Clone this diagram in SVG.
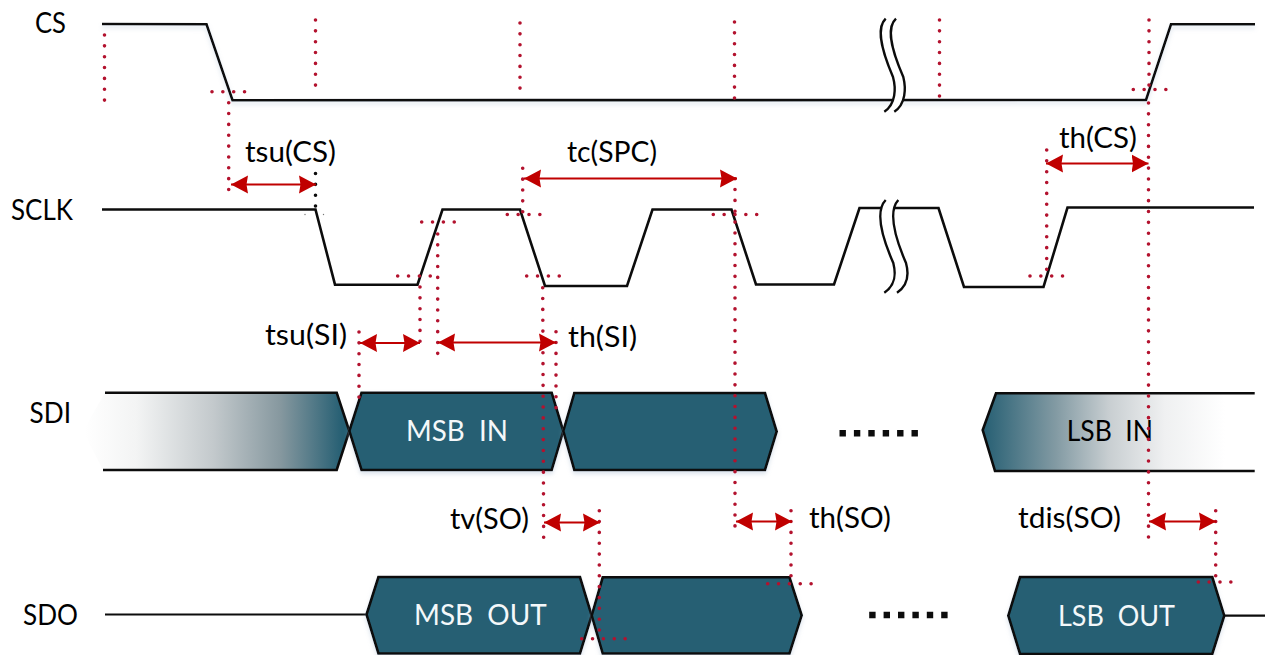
<svg xmlns="http://www.w3.org/2000/svg" width="1266" height="655" viewBox="0 0 1266 655">
<style>
text{font-family:"Lato","Open Sans","Liberation Sans",sans-serif;font-size:29px;fill:#000;white-space:pre}
.w{fill:#f4f8fa}
.sig{fill:none;stroke:#0c0c0c;stroke-width:2.6;stroke-linejoin:miter}
.thin{fill:none;stroke:#0c0c0c;stroke-width:2.2}
.bus{fill:#265f73;stroke:#0c0c0c;stroke-width:2.6;stroke-linejoin:miter}
.brk{fill:#fff;stroke:none}
.brkl{fill:none;stroke:#0c0c0c;stroke-width:2.4}
.dot{fill:none;stroke:#b3122e;stroke-width:3.600;stroke-linecap:round;stroke-dasharray:0 10.85}
.kdot{fill:none;stroke:#0c0c0c;stroke-width:3.600;stroke-linecap:round;stroke-dasharray:0 10.85}
.sq{fill:none;stroke:#0c0c0c;stroke-width:6.4;stroke-dasharray:6.4 8}
.arr{fill:none;stroke:#c00000;stroke-width:2.200;marker-start:url(#ah);marker-end:url(#ah)}
</style>
<defs>
<marker id="ah" markerUnits="userSpaceOnUse" markerWidth="18" markerHeight="19" refX="17" refY="9.500" orient="auto-start-reverse"><path d="M0 .5L17 9.500L0 18.500L1.500 9.500Z" fill="#c00000"/></marker>
<linearGradient id="gl" gradientUnits="userSpaceOnUse" x1="85" y1="0" x2="342" y2="0"><stop offset="0" stop-color="#fff"/><stop offset=".2" stop-color="#f3f4f4"/><stop offset=".5" stop-color="#c3c9cc"/><stop offset=".76" stop-color="#86989f"/><stop offset="1" stop-color="#265f73"/></linearGradient>
<linearGradient id="gr" gradientUnits="userSpaceOnUse" x1="983" y1="0" x2="1225" y2="0"><stop offset="0" stop-color="#265f73"/><stop offset=".3" stop-color="#829aa3"/><stop offset=".52" stop-color="#c8ced1"/><stop offset=".75" stop-color="#eff0f1"/><stop offset="1" stop-color="#fff"/></linearGradient>
<filter id="sh" x="-5%" y="-30%" width="110%" height="160%"><feDropShadow dx="0" dy="3" stdDeviation="2" flood-color="#9db4cc" flood-opacity=".35"/></filter>
</defs>

<g id="label-cs"><text x="35" y="33" textLength="31" lengthAdjust="spacingAndGlyphs">CS</text></g>
<g id="label-sclk"><text x="11" y="220" textLength="62" lengthAdjust="spacingAndGlyphs">SCLK</text></g>
<g id="label-sdi"><text x="29.500" y="423" textLength="41.500" lengthAdjust="spacingAndGlyphs">SDI</text></g>
<g id="label-sdo"><text x="23" y="625" textLength="55" lengthAdjust="spacingAndGlyphs">SDO</text></g>

<g id="signal-cs">
<path class="sig" filter="url(#sh)" d="M102 24L206.500 24.300L232.500 100.200L1146 100L1171 24.300L1255 24.300"/>
<path class="brk" d="M885.700 18.700C878 26 878 42 893 77C896 88 896 104 884.300 111.700H894.300C906 104 906 88 903.300 77C888 42 888 26 896 18.700Z"/>
<path class="brkl" d="M885.700 18.700C878 26 878 42 893 77C896 88 896 104 884.300 111.700M896 18.700C888 26 888 42 903.300 77C906 88 906 104 894.300 111.700"/>
</g>
<g id="signal-sclk">
<path class="sig" d="M102 209.500H315.500L335 284.700H417.500L442.500 209.500H520L545 286H627L652.500 209.500H731.500L756 284.500H834L859.500 208H938.500L964 287H1043.500L1067.500 207.500H1254"/>
<path class="brk" d="M885.700 200C878 208 877 226 893.300 263C896 274 896 285 884.300 292.700H897C908.500 285 909 274 906 263C890 226 891 208 898.300 200Z"/>
<path class="brkl" d="M885.700 200C878 208 877 226 893.300 263C896 274 896 285 884.300 292.700M898.300 200C891 208 890 226 906 263C909 274 908.500 285 897 292.700"/>
</g>
<g id="signal-sdi-first">
<path d="M105 392.700H336.700L349.300 431L336.700 470H103L83 431Z" fill="url(#gl)"/>
<path class="sig" d="M105 392.700H336.700L349.300 431L336.700 470H103"/>
</g>
<g id="signal-sdi-msb">
<polygon class="bus" filter="url(#sh)" points="349.300,431 361.500,392.700 551.700,392.700 563.300,431 551.700,470 361.500,470"/>
<text class="w" x="406" y="441" textLength="102" lengthAdjust="spacingAndGlyphs">MSB  IN</text>
</g>
<g id="signal-sdi-second">
<polygon class="bus" filter="url(#sh)" points="563.300,431 574.300,393 765,393 776.700,431.500 765,470 574.300,470"/>
</g>
<g id="signal-sdi-gap"><path class="sq" d="M839.500 433.300H918"/></g>
<g id="signal-sdi-lsb">
<path d="M996 393.300H1222L1235 431L1222 471H995L982.700 430Z" fill="url(#gr)"/>
<path class="sig" d="M1254.700 393.300H996L982.700 430L995 471H1254.700"/>
<text x="1066.700" y="441" textLength="86.300" lengthAdjust="spacingAndGlyphs">LSB  IN</text>
</g>
<g id="signal-sdo-idle"><path class="thin" d="M105 614.500H366.500"/></g>
<g id="signal-sdo-msb">
<polygon class="bus" filter="url(#sh)" points="366.500,614.500 378.400,577 580,577 591.700,615.500 580,653.500 378.400,653.500"/>
<text class="w" x="414" y="625" textLength="132.700" lengthAdjust="spacingAndGlyphs">MSB  OUT</text>
</g>
<g id="signal-sdo-second">
<polygon class="bus" filter="url(#sh)" points="591.700,615.500 602.700,577.300 789.500,577.300 801.700,615.300 789.500,653.500 602.700,653.500"/>
</g>
<g id="signal-sdo-gap"><path class="sq" d="M869.200 615H949"/></g>
<g id="signal-sdo-lsb">
<polygon class="bus" filter="url(#sh)" points="1008.300,615.700 1020,577 1212.300,577 1224.300,615.700 1212.300,654 1020,654"/>
<text class="w" x="1058" y="626" textLength="117" lengthAdjust="spacingAndGlyphs">LSB  OUT</text>
<path class="thin" d="M1224.300 615.700H1265"/>
</g>

<g id="connectors">
<path class="dot" d="M104.500 35V101"/>
<path class="dot" d="M315.500 20V86"/>
<path class="dot" d="M520 23V89"/>
<path class="dot" d="M734.500 22V100"/>
<path class="dot" d="M939.500 20V97"/>
<path class="dot" d="M1149 20V86"/>
<path class="dot" d="M1148.500 103V539"/>
<path class="dot" d="M228.700 102.700V190"/>
<path class="dot" d="M212 91.700H246"/>
<path class="dot" d="M1133.300 89.500H1167"/>
<path class="kdot" d="M315.500 173.500V207"/>
<circle cx="305" cy="214.500" r=".7" fill="#777"/>
<circle cx="323.500" cy="214.500" r=".7" fill="#777"/>
<path class="dot" d="M421.700 222H456"/>
<path class="dot" d="M397.700 276H431.500"/>
<path class="dot" d="M507.300 214.500H541"/>
<path class="dot" d="M526.700 276H560"/>
<path class="dot" d="M713.300 214.500H758"/>
<path class="dot" d="M1030 276H1064"/>
<path class="dot" d="M420 287V343"/>
<path class="dot" d="M437.700 234V355"/>
<path class="dot" d="M359 332V398"/>
<path class="dot" d="M542.700 287.700L543.700 547"/>
<path class="dot" d="M556 331.700V409"/>
<path class="dot" d="M522.700 168.300V212"/>
<path class="dot" d="M735 178.700V526"/>
<path class="dot" d="M1046.700 150V271"/>
<path class="dot" d="M599.300 510.700V631"/>
<path class="dot" d="M581.700 638.700H627"/>
<path class="dot" d="M791 510.700V577"/>
<path class="dot" d="M767.700 583.700H813"/>
<path class="dot" d="M1215.700 510.700V577"/>
<path class="dot" d="M1198.300 582H1232"/>
<path class="arr" d="M231 184.500H316"/>
<path class="arr" d="M524 178.500H737"/>
<path class="arr" d="M1046 163.500H1148.500"/>
<path class="arr" d="M360 343H420"/>
<path class="arr" d="M438 342.500H556"/>
<path class="arr" d="M544 522.500H600"/>
<path class="arr" d="M736 521.500H792"/>
<path class="arr" d="M1149 521.500H1216"/>
</g>

<g id="label-tsu-cs"><text x="245" y="162" textLength="91" lengthAdjust="spacingAndGlyphs">tsu(CS)</text></g>
<g id="label-tc-spc"><text x="567" y="162" textLength="90" lengthAdjust="spacingAndGlyphs">tc(SPC)</text></g>
<g id="label-th-cs"><text x="1059" y="148" textLength="78" lengthAdjust="spacingAndGlyphs">th(CS)</text></g>
<g id="label-tsu-si"><text x="265" y="345" textLength="82" lengthAdjust="spacingAndGlyphs">tsu(SI)</text></g>
<g id="label-th-si"><text x="568" y="346.500" textLength="69" lengthAdjust="spacingAndGlyphs">th(SI)</text></g>
<g id="label-tv-so"><text x="450" y="529" textLength="79" lengthAdjust="spacingAndGlyphs">tv(SO)</text></g>
<g id="label-th-so"><text x="809" y="528" textLength="82" lengthAdjust="spacingAndGlyphs">th(SO)</text></g>
<g id="label-tdis-so"><text x="1018" y="528" textLength="103" lengthAdjust="spacingAndGlyphs">tdis(SO)</text></g>
</svg>
